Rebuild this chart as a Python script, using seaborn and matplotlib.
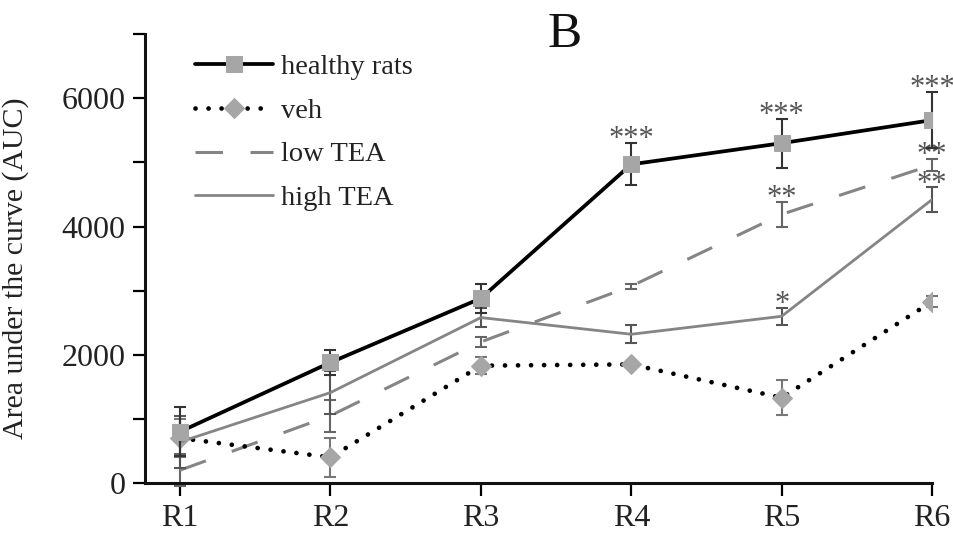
import matplotlib
matplotlib.use("Agg")
import matplotlib.pyplot as plt
import seaborn as sns
import pandas as pd
import numpy as np
from matplotlib.ticker import MultipleLocator

# sessions and groups
sessions = ['R1', 'R2', 'R3', 'R4', 'R5', 'R6']
groups = ['healthy rats', 'veh', 'low TEA', 'high TEA']

# mean AUC and SEM
healthy_mean = [800, 1880, 2880, 4970, 5300, 5660]
healthy_sem = [380, 200, 230, 330, 380, 440]
veh_mean = [700, 400, 1830, 1850, 1330, 2830]
veh_sem = [300, 300, 130, 40, 270, 90]
low_mean = [200, 1050, 2200, 3070, 4190, 4960]
low_sem = [250, 250, 80, 40, 200, 90]
high_mean = [640, 1410, 2580, 2320, 2600, 4420]
high_sem = [400, 330, 150, 140, 130, 190]

# significance marks
healthy_stars = ['', '', '', '***', '***', '***']
veh_stars = ['', '', '', '', '', '']
low_stars = ['', '', '', '', '**', '**']
high_stars = ['', '', '', '', '*', '**']

sns.set_style("ticks")
plt.rcParams['font.family'] = ['Liberation Serif', 'DejaVu Serif']

x = np.arange(len(sessions))
df = pd.DataFrame({
    'session': np.tile(x, len(groups)),
    'group': np.repeat(groups, len(sessions)),
    'auc': np.concatenate([healthy_mean, veh_mean, low_mean, high_mean]),
    'sem': np.concatenate([healthy_sem, veh_sem, low_sem, high_sem]),
    'stars': np.concatenate([healthy_stars, veh_stars, low_stars, high_stars]),
})

fig, ax = plt.subplots(figsize=(9.54, 5.34), dpi=100)
fig.subplots_adjust(left=0.152, right=0.977, bottom=0.0955, top=0.936)

mark_gray = '#a6a6a6'
line_gray = '#858585'

styles = {
    'healthy rats': dict(color='black', linewidth=2.7, marker='s', markersize=12,
                         markerfacecolor=mark_gray, markeredgecolor=mark_gray, zorder=5),
    'veh': dict(color='black', linewidth=3.4, linestyle=(0, (0.01, 2.75)),
                dash_capstyle='round', marker='D', markersize=10,
                markerfacecolor=mark_gray, markeredgecolor=mark_gray, zorder=3),
    'low TEA': dict(color=line_gray, linewidth=2.2, linestyle=(0, (9, 9)), zorder=2),
    'high TEA': dict(color=line_gray, linewidth=2.0, zorder=4),
}
err_colors = {'healthy rats': '#333333', 'veh': '#777777',
              'low TEA': '#666666', 'high TEA': '#555555'}

for g in groups:
    sub = df[df['group'] == g]
    sns.lineplot(data=sub, x='session', y='auc', ax=ax, label=g,
                 errorbar=None, **styles[g])
    ax.errorbar(sub['session'], sub['auc'], yerr=sub['sem'], fmt='none',
                ecolor=err_colors[g], elinewidth=1.5, capsize=4.5, capthick=1.5,
                zorder=styles[g]['zorder'] - 0.5, clip_on=False)
    for xi, yi, si, st in zip(sub['session'], sub['auc'], sub['sem'], sub['stars']):
        if st:
            ax.annotate(st, (xi, yi + si), xytext=(0, -3), textcoords='offset points',
                        ha='center', va='baseline', fontsize=22, color='#555555',
                        annotation_clip=False)

ax.set_xlim(-0.233, 5)
ax.set_ylim(0, 7000)
ax.set_xticks(x)
ax.set_xticklabels(sessions)
ax.yaxis.set_major_locator(MultipleLocator(2000))
ax.yaxis.set_minor_locator(MultipleLocator(1000))
ax.tick_params(axis='both', which='both', direction='out', length=9, width=1.6,
               labelsize=23, color='black', labelcolor='#222222')
ax.tick_params(axis='x', pad=6)
ax.tick_params(axis='y', pad=5)
sns.despine(ax=ax)
for sp in ['left', 'bottom']:
    ax.spines[sp].set_linewidth(2.2)
    ax.spines[sp].set_color('#111111')

ax.set_xlabel('')
ax.set_ylabel('Area under the curve (AUC)', fontsize=21.5, color='#222222')
ax.yaxis.set_label_coords(-0.147, 0.479)

leg = ax.legend(loc='upper left', bbox_to_anchor=(0.063, 0.955), frameon=False,
                fontsize=20.5, handlelength=2.75, handletextpad=0.3,
                labelspacing=0.62, borderpad=0, borderaxespad=0)
for t in leg.get_texts():
    t.set_color('#222222')

fig.text(565 / 954, 1 - 35 / 534, 'B', fontsize=37, ha='center', va='center',
         color='#111111')

fig.savefig('out.png', dpi=100)
